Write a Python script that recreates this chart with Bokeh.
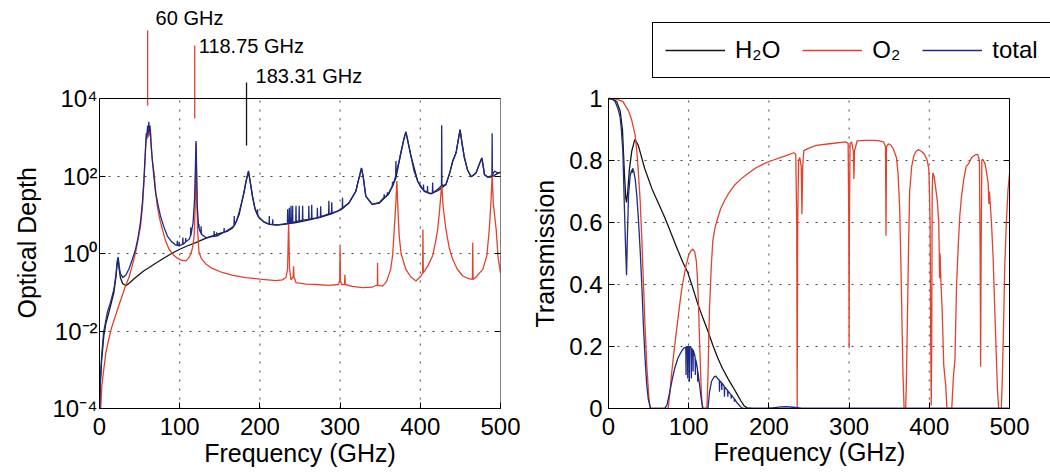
import numpy as np
from bokeh.plotting import figure
from bokeh.layouts import row
from bokeh.models import (Range1d, FixedTicker, CustomJSTickFormatter, BoxAnnotation,
                          Label, Legend, LegendItem, LogAxis, Title)
from bokeh.embed import file_html
from bokeh.resources import INLINE

# ---------------- data ----------------
# Left panel: optical depth (values stored as log10 of the depth)
freq_h2o_depth = [0.3, 1, 2.5, 5.4, 8, 11.7, 15, 18, 20.5, 22,
                  23.3, 24.5, 26, 29, 33, 38, 45, 55, 62, 70,
                  78, 90, 100, 110, 120, 130, 140, 150, 160, 166,
                  170, 174, 177, 180, 183, 185.8, 188, 190.8, 194, 199,
                  205, 212, 220, 230, 245, 260, 275, 290, 300, 311,
                  319.6, 323, 326.7, 329, 332, 340, 349, 361, 369.6, 375.8,
                  379.5, 382, 385, 388.3, 396.7, 405, 413, 421.7, 427, 432,
                  437, 440.4, 444.6, 447.5, 449.6, 452, 455, 459, 463.3, 469.6,
                  473.5, 476.7, 478.5, 480, 484, 489, 492.5, 496, 500]
h2o_depth_log10 = [-4.0, -3.4, -2.8, -2.12, -1.8, -1.52, -1.25, -1.0, -0.6, -0.28,
                   -0.15, -0.4, -0.62, -0.78, -0.83, -0.75, -0.62, -0.45, -0.36, -0.25,
                   -0.15, 0.0, 0.11, 0.2, 0.28, 0.37, 0.45, 0.52, 0.58, 0.66,
                   0.8, 1.0, 1.28, 1.55, 1.88, 2.11, 1.83, 1.46, 1.14, 0.92,
                   0.81, 0.75, 0.73, 0.75, 0.8, 0.86, 0.93, 1.03, 1.13, 1.3,
                   1.6, 1.9, 2.2, 1.95, 1.48, 1.27, 1.3, 1.55, 1.95, 2.6,
                   2.95, 3.14, 2.85, 2.52, 1.87, 1.6, 1.54, 1.62, 1.7, 1.78,
                   2.1, 2.38, 2.6, 2.95, 3.19, 2.85, 2.47, 2.15, 1.98, 2.08,
                   2.3, 2.46, 2.25, 2.03, 1.97, 1.97, 2.02, 2.06, 2.09]

freq_o2_depth = [1.5, 3, 5.4, 8, 11.7, 15, 20, 24, 28.3, 32,
                 36.7, 41, 45, 48, 51.25, 53.5, 55.4, 57.5, 58.5, 60,
                 61, 61.5, 62.5, 63.5, 65, 66.5, 68, 70, 72, 75,
                 78.3, 82, 86.7, 92, 97, 102, 107.5, 111, 113.75, 116,
                 118, 119.3, 120.4, 121.5, 122.5, 124, 127, 132.5, 140, 153,
                 165, 182.5, 200, 220, 228, 232.5, 234.5, 235.8, 237, 238.75,
                 241.5, 242, 242.5, 245, 257.5, 270, 286, 298, 299.5, 300,
                 300.5, 302, 305.5, 306, 306.5, 315, 328, 340, 345, 346.5,
                 346.7, 347, 353, 358, 363, 365.5, 367.5, 369.5, 370.8, 372,
                 373.7, 376, 382, 388, 394.6, 400.8, 402.9, 403.3, 403.7, 405.4,
                 410, 415.4, 419, 421.7, 424, 426.7, 428.5, 432, 436, 440.4,
                 446, 453, 460, 465, 465.4, 465.8, 470, 474, 478, 483,
                 486, 488, 489.6, 491, 494.6, 497, 500]
o2_depth_log10 = [-4.0, -3.4, -2.98, -2.55, -2.2, -1.92, -1.6, -1.35, -1.09, -0.86,
                  -0.62, -0.3, 0.03, 0.35, 0.71, 1.2, 1.83, 2.7, 3.0, 3.2,
                  3.0, 3.3, 3.05, 3.2, 2.6, 2.3, 2.09, 1.6, 1.23, 0.9,
                  0.63, 0.35, 0.11, -0.03, -0.12, -0.17, -0.19, -0.12, -0.02, 0.15,
                  0.45, 1.2, 2.85, 1.2, 0.55, 0.03, -0.13, -0.27, -0.38, -0.49,
                  -0.56, -0.62, -0.66, -0.70, -0.68, -0.62, -0.4, 0.8, -0.4, -0.68,
                  -0.6, -0.33, -0.6, -0.75, -0.79, -0.8, -0.82, -0.8, -0.7, 0.19,
                  -0.7, -0.8, -0.8, -0.55, -0.8, -0.85, -0.88, -0.87, -0.82, -0.82,
                  -0.24, -0.82, -0.84, -0.72, -0.41, -0.05, 0.62, 1.3, 1.87, 1.2,
                  0.45, 0.0, -0.41, -0.6, -0.71, -0.58, -0.5, 0.62, -0.5, -0.45,
                  -0.3, -0.06, 0.3, 0.62, 1.1, 1.79, 1.2, 0.62, 0.15, -0.15,
                  -0.4, -0.58, -0.65, -0.67, 0.28, -0.67, -0.6, -0.5, -0.41, -0.05,
                  0.62, 1.3, 2.04, 1.3, 0.62, -0.1, -0.5]

freq_total_depth = [0.3, 1, 2.5, 5, 7.5, 10, 13.75, 18, 20.5, 22,
                    23.3, 24.5, 26, 29.2, 33, 36.7, 41, 45, 48, 51,
                    53.5, 55.4, 57.5, 58.3, 59, 60, 61, 61.5, 62, 63,
                    64, 65.8, 68, 70, 73, 76, 80, 84.6, 90, 95,
                    96.7, 97, 97.3, 99, 99.3, 99.6, 103.7, 104, 104.3, 107.2,
                    107.5, 107.8, 111.7, 113.5, 113.75, 114, 116.7, 118.5, 120.4, 122,
                    123.7, 124, 124.3, 126.4, 126.7, 127, 132.5, 142.7, 143, 143.3,
                    145.7, 146, 146.3, 155.1, 155.4, 155.7, 164, 167.7, 168, 168.3,
                    171, 174, 177, 180, 183, 185.8, 188, 190.8, 194, 196.7,
                    197, 197.3, 199, 205, 211.4, 211.7, 212, 215.7, 216, 216.3,
                    222, 228, 234.3, 234.6, 234.9, 236.4, 236.7, 237, 238.5, 238.75,
                    239, 240.5, 240.8, 241.1, 244.7, 245, 245.3, 248.7, 249, 249.3,
                    253, 253.3, 253.6, 260.7, 261, 261.3, 264.3, 264.6, 264.9, 271.4,
                    271.7, 272, 275.5, 275.8, 276.1, 285.7, 286, 286.3, 289.3, 289.6,
                    289.9, 296, 302.7, 303, 303.3, 311, 319.6, 323, 326.7, 329,
                    332, 340, 349, 354.7, 355, 355.3, 358.7, 359, 359.3, 362,
                    365.1, 365.4, 365.7, 369.3, 369.6, 370, 375.8, 379.5, 382, 385,
                    388.3, 392, 396.7, 400, 403.7, 404, 404.3, 408.7, 409, 409.3,
                    413, 415.1, 415.4, 415.7, 421.7, 426.4, 426.7, 427, 432, 437,
                    440.4, 444.6, 447.5, 449.6, 452, 455, 459, 463.3, 466.5, 469.6,
                    473.5, 476.7, 478.5, 480, 484, 489.3, 489.6, 489.9, 492.5, 496,
                    500]
total_depth_log10 = [-4.0, -3.3, -2.7, -2.05, -1.78, -1.5, -1.26, -0.92, -0.55, -0.2,
                     -0.09, -0.32, -0.52, -0.62, -0.55, -0.40, -0.15, 0.11, 0.4, 0.8,
                     1.3, 1.91, 2.77, 3.1, 2.95, 3.3, 3.1, 3.4, 3.15, 3.3,
                     2.9, 2.43, 1.95, 1.57, 1.25, 0.97, 0.7, 0.45, 0.3, 0.22,
                     0.21, 0.33, 0.21, 0.2, 0.3, 0.2, 0.24, 0.41, 0.24, 0.29,
                     0.4, 0.3, 0.37, 0.45, 0.67, 0.47, 0.8, 1.4, 2.9, 1.2,
                     0.66, 0.76, 0.63, 0.52, 0.7, 0.5, 0.41, 0.44, 0.58, 0.44,
                     0.45, 0.55, 0.45, 0.55, 0.66, 0.55, 0.66, 0.71, 0.97, 0.72,
                     0.85, 1.06, 1.3, 1.57, 1.9, 2.13, 1.85, 1.48, 1.15, 1.0,
                     1.14, 0.98, 0.93, 0.82, 0.76, 0.97, 0.76, 0.75, 0.88, 0.75,
                     0.74, 0.76, 0.78, 1.14, 0.78, 0.78, 1.18, 0.78, 0.79, 1.23,
                     0.79, 0.8, 1.23, 0.8, 0.82, 1.23, 0.82, 0.84, 1.23, 0.84,
                     0.86, 1.23, 0.86, 0.88, 1.23, 0.88, 0.9, 1.26, 0.9, 0.92,
                     1.18, 0.92, 0.95, 1.22, 0.95, 1.02, 1.36, 1.02, 1.05, 1.32,
                     1.05, 1.08, 1.15, 1.44, 1.16, 1.31, 1.61, 1.9, 2.21, 1.95,
                     1.48, 1.27, 1.32, 1.45, 1.53, 1.45, 1.5, 1.58, 1.5, 1.62,
                     1.72, 1.85, 1.74, 2.0, 2.39, 2.05, 2.6, 2.95, 3.14, 2.85,
                     2.52, 2.15, 1.87, 1.73, 1.64, 1.78, 1.63, 1.58, 1.74, 1.57,
                     1.55, 1.56, 1.83, 1.57, 1.66, 1.75, 3.31, 1.75, 1.78, 2.1,
                     2.39, 2.6, 2.95, 3.2, 2.85, 2.47, 2.15, 1.98, 2.02, 2.09,
                     2.3, 2.47, 2.25, 2.04, 1.98, 2.0, 3.1, 2.02, 2.13, 2.08,
                     2.1]

# Right panel: transmission
freq_h2o_trans = [0, 5, 10.3, 14.5, 17.4, 19.8, 21.5, 22.5, 24, 26,
                  29, 32.8, 37, 41.3, 45, 54, 60, 70.2, 78, 86.8,
                  93, 99, 105, 111.6, 118, 124, 130, 136.4, 142, 148.8,
                  155, 161, 165, 169.4, 173, 180, 500]
h2o_trans = [1.0, 0.998, 0.99, 0.96, 0.9, 0.76, 0.68, 0.665, 0.7, 0.77,
             0.83, 0.868, 0.85, 0.81, 0.775, 0.71, 0.675, 0.616, 0.565, 0.508,
             0.47, 0.438, 0.39, 0.335, 0.29, 0.249, 0.205, 0.162, 0.13, 0.097,
             0.07, 0.043, 0.025, 0.008, 0.002, 0.0, 0.0]

freq_o2_trans = [0, 10.4, 18, 25, 29, 33.3, 36, 39.5, 41.5, 43.5,
                 45.5, 47.7, 50.5, 52, 74.4, 76.5, 78.5, 81.5, 84.7, 87.8,
                 90.9, 94, 97, 100, 103, 105.4, 107.5, 109.5, 110.7, 111.6,
                 112.6, 113.6, 114.7, 115.7, 117, 122.7, 124, 125, 126, 128,
                 130, 133, 136.4, 140, 144.6, 150, 157, 165, 173.5, 183,
                 194, 204, 215, 224, 231, 233.5, 234.7, 235.3, 235.9, 237,
                 238.5, 240.3, 241.2, 242.1, 243.5, 250, 259, 275.5, 296, 298.8,
                 299.6, 300, 300.4, 301.2, 303, 305.3, 306, 306.7, 310, 320,
                 328.6, 336, 343, 345.4, 346, 346.6, 349, 352, 355, 359,
                 361, 363, 364.5, 366, 367.3, 368.6, 370.6, 371.5, 372.6, 374,
                 375.5, 378, 380.8, 383.5, 386.5, 390, 394, 397.5, 399.5, 401,
                 401.8, 402.4, 403, 403.6, 404.4, 406, 408, 410, 411.8, 412.3,
                 412.8, 413.4, 414.6, 416, 418, 420.4, 422, 428, 430, 432,
                 434, 436, 438, 440, 443, 446, 449, 453, 457, 460.4,
                 462.5, 463.4, 464, 464.6, 465.5, 466.5, 469.4, 471.5, 473.5, 474.3,
                 475, 477.5, 479.6, 481.5, 483.7, 485, 486.5, 489.8, 491.3, 492.6,
                 494, 496, 498, 500]
o2_trans = [1.0, 0.998, 0.99, 0.96, 0.93, 0.88, 0.81, 0.67, 0.55, 0.41,
            0.27, 0.14, 0.03, 0.0, 0.0, 0.05, 0.108, 0.18, 0.249, 0.315,
            0.378, 0.425, 0.465, 0.495, 0.51, 0.514, 0.505, 0.476, 0.43, 0.378,
            0.3, 0.216, 0.13, 0.054, 0.0, 0.0, 0.1, 0.22, 0.324, 0.45,
            0.54, 0.585, 0.616, 0.645, 0.67, 0.695, 0.72, 0.74, 0.757, 0.775,
            0.79, 0.8, 0.81, 0.818, 0.825, 0.82, 0.6, 0.0, 0.6, 0.8,
            0.81, 0.78, 0.627, 0.78, 0.832, 0.84, 0.849, 0.854, 0.86, 0.855,
            0.6, 0.195, 0.6, 0.855, 0.86, 0.83, 0.74, 0.83, 0.863, 0.865,
            0.865, 0.864, 0.86, 0.845, 0.557, 0.845, 0.854, 0.85, 0.838, 0.81,
            0.76, 0.65, 0.48, 0.27, 0.1, 0.0, 0.0, 0.1, 0.27, 0.5,
            0.7, 0.78, 0.816, 0.83, 0.835, 0.83, 0.82, 0.8, 0.77, 0.6,
            0.2, 0.01, 0.2, 0.7, 0.76, 0.75, 0.71, 0.67, 0.6, 0.52,
            0.42, 0.5, 0.4, 0.32, 0.14, 0.076, 0.0, 0.0, 0.1, 0.16,
            0.4, 0.52, 0.62, 0.68, 0.74, 0.78, 0.79, 0.81, 0.818, 0.82,
            0.8, 0.5, 0.135, 0.5, 0.8, 0.805, 0.79, 0.76, 0.725, 0.66,
            0.7, 0.6, 0.486, 0.33, 0.16, 0.06, 0.0, 0.0, 0.12, 0.27,
            0.45, 0.595, 0.7, 0.758]

freq_total_trans = [0, 5, 8.3, 12, 14.5, 16, 17.9, 19.8, 21.3, 22.5,
                    23.5, 25, 27, 28.9, 29.6, 30.2, 31.5, 33.3, 35.2, 37.3,
                    39.5, 41.5, 43.5, 45.6, 47.6, 49.6, 52.5, 70, 73, 76.4,
                    79.5, 82.6, 86.5, 90.9, 94, 96.4, 96.7, 97.0, 98.5, 98.8,
                    99.1, 100.5, 100.8, 101.1, 103.0, 103.3, 103.6, 105.1, 105.4, 105.7,
                    107.4, 108.0, 108.3, 108.6, 109.5, 111.0, 111.2, 111.4, 113.6, 115.7,
                    117.8, 124, 126, 128.5, 132, 134, 136, 138.1, 138.4, 138.7,
                    141.0, 141.3, 141.6, 144.3, 144.6, 144.9, 148.5, 148.8, 149.1, 152.7,
                    153.0, 153.3, 156.7, 157.0, 157.3, 161, 165, 168, 200, 207,
                    215, 222, 230, 240, 250, 500]
total_trans = [1.0, 0.998, 0.99, 0.965, 0.94, 0.9, 0.83, 0.65, 0.52, 0.43,
               0.55, 0.69, 0.75, 0.77, 0.76, 0.775, 0.765, 0.74, 0.69, 0.61,
               0.51, 0.4, 0.27, 0.16, 0.08, 0.03, 0.0, 0.0, 0.012, 0.054,
               0.095, 0.13, 0.162, 0.184, 0.195, 0.198, 0.108, 0.199, 0.2, 0.097,
               0.2, 0.2, 0.086, 0.199, 0.195, 0.097, 0.194, 0.19, 0.119, 0.188,
               0.173, 0.165, 0.108, 0.158, 0.15, 0.125, 0.086, 0.12, 0.075, 0.03,
               0.0, 0.0, 0.054, 0.088, 0.103, 0.104, 0.097, 0.092, 0.054, 0.09,
               0.083, 0.06, 0.082, 0.072, 0.038, 0.07, 0.058, 0.038, 0.056, 0.045,
               0.032, 0.043, 0.032, 0.022, 0.03, 0.016, 0.005, 0.0, 0.0, 0.003,
               0.005, 0.006, 0.004, 0.001, 0.0, 0.0]

# Line markers above the left panel
marker_freqs = [60, 118.75, 183.31]
marker_labels = ["60 GHz", "118.75 GHz", "183.31 GHz"]

freq_ticks = [0, 100, 200, 300, 400, 500]
depth_ticks = [1e-4, 1e-2, 1, 1e2, 1e4]
trans_ticks = [0, 0.2, 0.4, 0.6, 0.8, 1]
legend_labels = ["H\u2082O", "O\u2082", "total"]

# ---------------- styles / layout constants ----------------
FONT = "Liberation Sans"
C_H2O = "#151515"
C_O2 = "#e2412b"
C_TOT = "#1f2a88"
GRID = "#444444"
LW = 1.3
FRAME_TOP_PX = 10      # both frames start here (Bokeh aligns frames in a row)
FRAME_BOTTOM_PX = 408
BOX_TOP_PX = 98        # visible box top
EXTRA = (BOX_TOP_PX - FRAME_TOP_PX) / (FRAME_BOTTOM_PX - BOX_TOP_PX)
R_FRAME_LEFT, R_BOX_RIGHT, R_FRAME_RIGHT = 608, 1009, 1050
X_END_RIGHT = 500 * (R_FRAME_RIGHT - R_FRAME_LEFT) / (R_BOX_RIGHT - R_FRAME_LEFT)
TICK_LEN_GHZ = 6 * 500 / (R_BOX_RIGHT - R_FRAME_LEFT)


def style_axis(ax):
    ax.major_label_text_font = FONT
    ax.major_label_text_font_size = "24px"
    ax.major_label_text_color = "black"
    ax.axis_label_text_font = FONT
    ax.axis_label_text_font_size = "25px"
    ax.axis_label_text_font_style = "normal"
    ax.axis_label_text_color = "black"
    ax.axis_line_color = "black"
    ax.major_tick_line_color = "black"
    ax.major_tick_in = 6
    ax.major_tick_out = 0
    ax.minor_tick_line_color = None


def style_grid(g):
    g.grid_line_color = GRID
    g.grid_line_dash = "2 7"
    g.grid_line_width = 1


def axis_title(text, offset, standoff, vertical_align):
    return Title(text=text, align="left", offset=offset, standoff=standoff,
                 vertical_align=vertical_align, text_font=FONT, text_font_size="25px",
                 text_font_style="normal", text_color="black")


pow_fmt = CustomJSTickFormatter(code=r"""
const sup = {"-": "\u207b", "0": "\u2070", "1": "\u00b9", "2": "\u00b2", "3": "\u00b3", "4": "\u2074"};
const e = Math.round(Math.log10(tick));
return "10" + String(e).split("").map((c) => sup[c]).join("");
""")

# ---------------- left: optical depth ----------------
TOP_LOG = 4 + 8 * EXTRA
left = figure(width=520, height=474, x_range=Range1d(0, 500),
              y_range=Range1d(1e-4, 10 ** TOP_LOG), y_axis_type="log",
              output_backend="svg", toolbar_location=None,
              min_border_left=99, min_border_right=20,
              min_border_top=FRAME_TOP_PX, min_border_bottom=474 - FRAME_BOTTOM_PX)
left.outline_line_color = None
left.background_fill_color = "white"
left.border_fill_color = "white"

style_axis(left.xaxis[0])
left.xaxis.ticker = FixedTicker(ticks=freq_ticks)
left.xaxis.axis_label = "Frequency (GHz)"
left.xaxis.major_label_standoff = 9
left.xaxis.axis_label_standoff = 1

style_axis(left.yaxis[0])
left.yaxis.ticker = FixedTicker(ticks=depth_ticks)
left.yaxis.formatter = pow_fmt
left.yaxis.bounds = (1e-4, 1e4)
left.yaxis.major_label_standoff = 2
left.add_layout(axis_title("Optical Depth", 90, 18, "bottom"), "left")

ra = LogAxis(ticker=FixedTicker(ticks=depth_ticks), bounds=(1e-4, 1e4),
             major_label_text_font_size="0px", axis_line_color=None,
             major_tick_line_color="black", major_tick_in=6, major_tick_out=0,
             minor_tick_line_color=None, formatter=CustomJSTickFormatter(code="return ''"))
left.add_layout(ra, "right")

left.xgrid.visible = False
left.ygrid.ticker = FixedTicker(ticks=depth_ticks[1:-1])
style_grid(left.ygrid[0])
left.segment(x0=freq_ticks[1:-1], y0=depth_ticks[0], x1=freq_ticks[1:-1], y1=depth_ticks[-1],
             line_color=GRID, line_dash="2 7", line_width=1)

left.line(freq_h2o_depth, np.power(10.0, h2o_depth_log10), line_color=C_H2O, line_width=LW)
left.line(freq_o2_depth, np.power(10.0, o2_depth_log10), line_color=C_O2, line_width=LW)
left.line(freq_total_depth, np.power(10.0, total_depth_log10), line_color=C_TOT, line_width=LW)

left.add_layout(BoxAnnotation(left=0, right=500, bottom=1e-4, top=1e4, fill_alpha=0,
                              line_color="black", line_width=1, line_alpha=1))

# marker lines and labels above the box
marker_tops = [10 ** 5.755, 10 ** 5.368, 10 ** 4.413]
marker_bottoms = [10 ** 3.819, 10 ** 3.484, 10 ** 2.787]
marker_label_y = [10 ** 6.065, 10 ** 5.342, 10 ** 4.568]
marker_offsets = [8, 4, 9]
left.segment(x0=marker_freqs, y0=marker_bottoms, x1=marker_freqs, y1=marker_tops,
             line_color=[C_O2, C_O2, C_H2O], line_width=LW)
for f, t, yv, off in zip(marker_freqs, marker_labels, marker_label_y, marker_offsets):
    left.add_layout(Label(x=f, y=yv, x_offset=off, text=t, text_font=FONT,
                          text_font_size="20px", text_baseline="middle", text_align="left",
                          text_color="black"))

# ---------------- right: transmission ----------------
right = figure(width=530, height=474, x_range=Range1d(0, X_END_RIGHT), y_range=Range1d(0, 1 + EXTRA),
               output_backend="svg", toolbar_location=None,
               min_border_left=R_FRAME_LEFT - 520, min_border_right=0,
               min_border_top=FRAME_TOP_PX, min_border_bottom=474 - FRAME_BOTTOM_PX)
right.outline_line_color = None
right.background_fill_color = "white"
right.border_fill_color = "white"

style_axis(right.xaxis[0])
right.xaxis.ticker = FixedTicker(ticks=freq_ticks)
right.xaxis.bounds = (0, 500)
right.xaxis.major_label_standoff = 9
right.add_layout(axis_title("Frequency (GHz)", 105, 0, "top"), "below")

style_axis(right.yaxis[0])
right.yaxis.ticker = FixedTicker(ticks=trans_ticks)
right.yaxis.bounds = (0, 1)
right.yaxis.formatter = CustomJSTickFormatter(code="return String(Math.round(tick * 10) / 10)")
right.yaxis.major_label_standoff = 6
right.add_layout(axis_title("Transmission", 81, 16, "bottom"), "left")

right.xgrid.visible = False
right.ygrid.visible = False
right.segment(x0=freq_ticks[1:-1], y0=0, x1=freq_ticks[1:-1], y1=1,
              line_color=GRID, line_dash="2 7", line_width=1)
right.segment(x0=0, y0=trans_ticks[1:-1], x1=500, y1=trans_ticks[1:-1],
              line_color=GRID, line_dash="2 7", line_width=1)
# inward ticks on the right edge of the box
right.segment(x0=500 - TICK_LEN_GHZ, y0=trans_ticks, x1=500, y1=trans_ticks,
              line_color="black", line_width=1)

r_h2o = right.line(freq_h2o_trans, h2o_trans, line_color=C_H2O, line_width=LW)
r_o2 = right.line(freq_o2_trans, o2_trans, line_color=C_O2, line_width=LW)
r_tot = right.line(freq_total_trans, total_trans, line_color=C_TOT, line_width=LW)

right.add_layout(BoxAnnotation(left=0, right=500, bottom=0, top=1, fill_alpha=0,
                               line_color="black", line_width=1, line_alpha=1))

legend = Legend(items=[LegendItem(label=legend_labels[0], renderers=[r_h2o]),
                       LegendItem(label=legend_labels[1], renderers=[r_o2]),
                       LegendItem(label=legend_labels[2], renderers=[r_tot])],
                orientation="horizontal", location=(44, 330),
                label_text_font=FONT, label_text_font_size="24px", label_text_color="black",
                glyph_width=60, glyph_height=30, label_height=30, label_standoff=10,
                spacing=22, padding=12, margin=0,
                border_line_color="black", border_line_width=1, border_line_alpha=1,
                background_fill_color="white", background_fill_alpha=1)
right.add_layout(legend)

layout = row(left, right)
open("out.html", "w").write(file_html(layout, INLINE))
